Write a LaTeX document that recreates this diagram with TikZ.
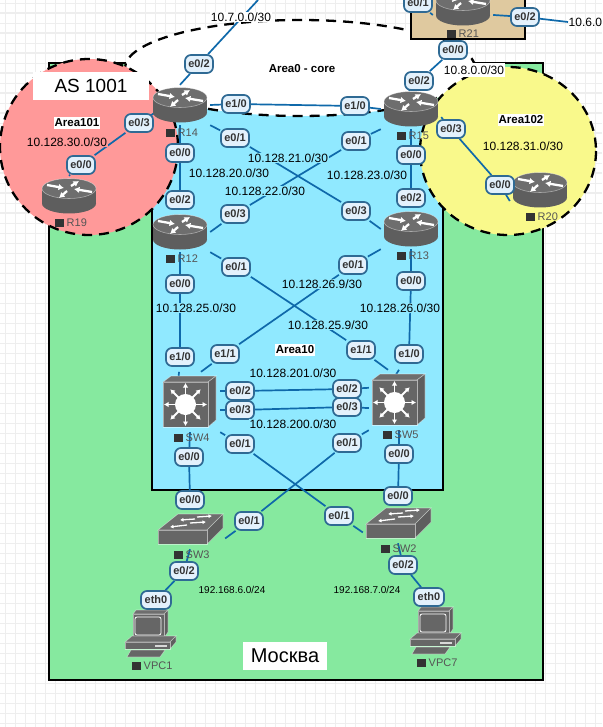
\documentclass[tikz,border=0pt]{standalone}
\usepackage{fontspec}
\setmainfont{Liberation Sans}
\usetikzlibrary{arrows.meta}
\definecolor{gridc}{HTML}{EEEEEE}
\definecolor{greenbg}{HTML}{86E99F}
\definecolor{bluebg}{HTML}{90E9FF}
\definecolor{pinkbg}{HTML}{FF9999}
\definecolor{yellowbg}{HTML}{F9F98B}
\definecolor{tanbg}{HTML}{DFC99F}
\definecolor{linkc}{HTML}{0F69AA}
\definecolor{pillfill}{HTML}{E3F1FC}
\definecolor{pilledge}{HTML}{2F6A94}
\definecolor{devc}{HTML}{666666}
\definecolor{devtop}{HTML}{6E6E6E}
\definecolor{devdark}{HTML}{5E5E5E}
\definecolor{labc}{HTML}{555555}
\pgfdeclarelayer{bg}
\pgfdeclarelayer{conn}
\pgfsetlayers{bg,conn,main}
\tikzset{
  link/.style={draw=linkc,line width=1.7pt},
  pill/.style={draw=pilledge,line width=1.7pt,fill=pillfill,rounded corners=6pt,minimum width=28pt,minimum height=18pt,inner sep=0pt,font=\fontsize{11}{11}\selectfont\bfseries,text=black!80},
  net/.style={inner sep=0.5pt,font=\fontsize{12}{12}\selectfont,text=black},
  smallnet/.style={inner sep=0pt,font=\fontsize{10}{10}\selectfont,text=black},
  title/.style={fill=white,inner sep=0pt,font=\fontsize{11.5}{12}\selectfont\bfseries,text=black,inner xsep=1pt,inner ysep=2pt},
  bigbox/.style={fill=white,inner sep=0pt,text=black},
  devbox/.style={minimum width=#1,minimum height=40pt,inner sep=0pt,draw=none},
  devlabel/.style={anchor=west,inner sep=0pt,font=\fontsize{11}{11}\selectfont,text=labc},
  area/.style={draw=black,line width=2.3pt,dash pattern=on 10pt off 7pt},
  iconarrow/.style={draw=white,line width=2.3pt,-{Latex[length=5.5pt,width=6.5pt]}},
  spoke/.style={draw=white,line width=1.8pt,-{Latex[length=4.5pt,width=5.5pt]}},
  thinarrow/.style={draw=white,line width=1.3pt,-{Latex[length=3.5pt,width=4pt]}},
  edge/.style={draw=white,draw opacity=0.45,line width=0.6pt},
  router/.pic={
    \fill[devdark] (-27,-7.5) rectangle (27,7.5);
    \fill[devdark] (0,7.5) ellipse [x radius=27,y radius=10];
    \fill[devtop,draw=white,draw opacity=0.45,line width=0.6pt] (0,-7.5) ellipse [x radius=27,y radius=10];
    \draw[iconarrow] (-22,-11) -- (-5,-8);
    \draw[iconarrow] (2,-10) -- (10,-15);
    \draw[iconarrow] (23,-4) -- (5,-7);
    \draw[iconarrow] (-2,-5) -- (-10,2);
  },
  lthree/.pic={
    \fill[devtop,edge] (-27,-20) -- (-19,-26) -- (26,-26) -- (18,-20) -- cycle;
    \fill[devdark,edge] (18,-20) -- (26,-26) -- (26,18) -- (18,25) -- cycle;
    \fill[devc,edge] (-27,-20) rectangle (18,25);
    \fill[white] (-4.5,2.5) circle (10.5);
    \foreach \a in {0,45,...,315}{
      \draw[spoke] ([shift={(\a:9)}]-4.5,2.5) -- ([shift={(\a:21.5)}]-4.5,2.5);
    }
  },
  ltwo/.pic={
    \fill[devtop,edge] (-32,1) -- (-12,-15) -- (33,-15) -- (17,1) -- cycle;
    \fill[devdark,edge] (17,1) -- (33,-15) -- (33,-1) -- (17,15) -- cycle;
    \fill[devc,edge] (-32,1) rectangle (17,15);
    \draw[thinarrow] (5,-10) -- (-10,-9);
    \draw[thinarrow] (7,-12) -- (22,-13);
    \draw[thinarrow] (-3,-4) -- (-20,-2);
    \draw[thinarrow] (0,-6) -- (16,-7);
  },
  pc/.pic={
    \fill[devtop,edge] (-17,-20) -- (-14,-24) -- (18,-24) -- (14,-20) -- cycle;
    \fill[devdark,edge] (14,-20) -- (18,-24) -- (18,-2) -- (14,4) -- cycle;
    \fill[devc,edge] (-17,-20) rectangle (14,4);
    \draw[white,line width=0.8pt,rounded corners=2pt] (-15,-17) rectangle (11,1);
    \fill[devtop,edge] (-25,8) -- (-18,2) -- (26,2) -- (20,8) -- cycle;
    \fill[devdark,edge] (20,8) -- (26,2) -- (26,8) -- (20,15) -- cycle;
    \fill[devc,edge] (-25,8) rectangle (20,15);
    \fill[white,opacity=0.75] (5,11) rectangle (17,13);
    \fill[devc,edge] (-19,16) -- (15,16) -- (10,23) -- (-23,23) -- cycle;
  }
}
\newcommand{\devlab}[4]{\node[devlabel] (#1) at (#2,#3) {\textcolor[HTML]{333333}{\raisebox{-0.6pt}{\rule{8.5pt}{8.5pt}}}\hspace{3pt}#4};}
\begin{document}
\begin{tikzpicture}[x=1pt,y=-1pt]
\useasboundingbox (0,0) rectangle (602,727);
\begin{pgfonlayer}{bg}
  \fill[white] (0,0) rectangle (602,727);
  \foreach \g in {5,15,...,595} \draw[gridc,line width=0.5pt] (\g,0) -- (\g,727);
  \foreach \g in {3,13,...,723} \draw[gridc,line width=0.5pt] (0,\g) -- (602,\g);
  \foreach \g in {5,25,...,585} \draw[gridc,line width=1pt] (\g,0) -- (\g,727);
  \foreach \g in {13,33,...,713} \draw[gridc,line width=1pt] (0,\g) -- (602,\g);
  \filldraw[fill=greenbg,draw=black,line width=1.1pt] (49,63) rectangle (543,680);
  \filldraw[fill=bluebg,draw=black,line width=2.6pt] (152,100) rectangle (443,490);
  \filldraw[fill=white,area] (300,68) ellipse [x radius=175,y radius=48];
  \filldraw[fill=tanbg,draw=black,line width=1.1pt] (411,-10) rectangle (525,39);
  \filldraw[fill=pinkbg,area] (89,147) ellipse [x radius=89,y radius=88];
  \filldraw[fill=yellowbg,area] (508,151) ellipse [x radius=88,y radius=84];
\end{pgfonlayer}

% devices
\node[devbox=60pt] (r14) at (180,105) {}; \pic at (r14) {router};
\node[devbox=60pt] (r15) at (411,109) {}; \pic at (r15) {router};
\node[devbox=60pt] (r12) at (180,232) {}; \pic at (r12) {router};
\node[devbox=60pt] (r13) at (411,229) {}; \pic at (r13) {router};
\node[devbox=60pt] (r19) at (69,196) {}; \pic at (r19) {router};
\node[devbox=60pt] (r20) at (540,190) {}; \pic at (r20) {router};
\node[devbox=60pt] (r21) at (463,8) {}; \pic at (r21) {router};
\node[devbox=60pt,minimum height=60pt] (sw4) at (190,402) {}; \pic at (sw4) {lthree};
\node[devbox=60pt,minimum height=60pt] (sw5) at (399,400) {}; \pic at (sw5) {lthree};
\node[devbox=70pt] (sw3) at (190,529) {}; \pic at (sw3) {ltwo};
\node[devbox=70pt] (sw2) at (398,523) {}; \pic at (sw2) {ltwo};
\node[devbox=56pt,minimum height=52pt] (vpc1) at (150,634) {}; \pic at (vpc1) {pc};
\node[devbox=56pt,minimum height=52pt] (vpc7) at (435,631) {}; \pic at (vpc7) {pc};

% device labels
\devlab{l14}{166}{133}{R14}
\devlab{l15}{397}{136}{R15}
\devlab{l12}{166}{259}{R12}
\devlab{l13}{397}{256}{R13}
\devlab{l19}{55}{223}{R19}
\devlab{l20}{526}{217}{R20}
\devlab{l21}{447}{34}{R21}
\devlab{lsw4}{174}{438}{SW4}
\devlab{lsw5}{383}{435}{SW5}
\devlab{lsw3}{174}{555}{SW3}
\devlab{lsw2}{381}{549}{SW2}
\devlab{lvpc1}{132}{666}{VPC1}
\devlab{lvpc7}{417}{663}{VPC7}

% interface pills
\node[pill] (a1) at (199,64) {e0/2};
\node[pill] (a2) at (236,104) {e1/0};
\node[pill] (a3) at (355,106) {e1/0};
\node[pill] (a4) at (235,138) {e0/1};
\node[pill] (a5) at (356,211) {e0/3};
\node[pill] (a6) at (356,141) {e0/1};
\node[pill] (a7) at (235,214) {e0/3};
\node[pill] (a8) at (180,153) {e0/0};
\node[pill] (a9) at (180,200) {e0/2};
\node[pill] (b1) at (139,123) {e0/3};
\node[pill] (b2) at (81,165) {e0/0};
\node[pill] (b3) at (419,81) {e0/2};
\node[pill] (b4) at (453,50) {e0/0};
\node[pill] (b5) at (451,129) {e0/3};
\node[pill] (b6) at (500,185) {e0/0};
\node[pill] (b7) at (411,155) {e0/0};
\node[pill] (b8) at (411,198) {e0/2};
\node[pill] (b9) at (418,3) {e0/1};
\node[pill] (c1) at (525,17) {e0/2};
\node[pill] (c2) at (180,284) {e0/0};
\node[pill] (c3) at (180,357) {e1/0};
\node[pill] (c4) at (236,267) {e0/1};
\node[pill] (c5) at (361,350) {e1/1};
\node[pill] (c6) at (353,265) {e0/1};
\node[pill] (c7) at (225,354) {e1/1};
\node[pill] (c8) at (411,281) {e0/0};
\node[pill] (c9) at (409,354) {e1/0};
\node[pill] (d1) at (240,391) {e0/2};
\node[pill] (d2) at (347,389) {e0/2};
\node[pill] (d3) at (240,410) {e0/3};
\node[pill] (d4) at (347,407) {e0/3};
\node[pill] (d5) at (240,444) {e0/1};
\node[pill] (d6) at (339,516) {e0/1};
\node[pill] (d7) at (347,443) {e0/1};
\node[pill] (d8) at (249,521) {e0/1};
\node[pill] (d9) at (189,457) {e0/0};
\node[pill] (e1) at (190,500) {e0/0};
\node[pill] (e2) at (399,454) {e0/0};
\node[pill] (e3) at (398,496) {e0/0};
\node[pill] (e4) at (184,571) {e0/2};
\node[pill,minimum width=30pt] (e5) at (156,600) {eth0};
\node[pill] (e6) at (403,565) {e0/2};
\node[pill,minimum width=30pt] (e7) at (429,597) {eth0};

% network labels
\node[net,fill=white] (n1) at (241,17) {10.7.0.0/30};
\node[net,fill=white,minimum height=14pt] (n2) at (474,70) {10.8.0.0/30};
\node[net,fill=bluebg] at (288,158) {10.128.21.0/30};
\node[net,fill=bluebg] at (229,173) {10.128.20.0/30};
\node[net,fill=bluebg] at (265,191) {10.128.22.0/30};
\node[net,fill=bluebg] at (367,175) {10.128.23.0/30};
\node[net,fill=pinkbg] at (67,142) {10.128.30.0/30};
\node[net,fill=yellowbg] at (523,146) {10.128.31.0/30};
\node[net,fill=bluebg] at (196,308) {10.128.25.0/30};
\node[net,fill=bluebg] at (400,308) {10.128.26.0/30};
\node[net,fill=bluebg] at (322,284) {10.128.26.9/30};
\node[net,fill=bluebg] at (328,325) {10.128.25.9/30};
\node[net,fill=bluebg] at (293,373) {10.128.201.0/30};
\node[net,fill=bluebg] at (293,424) {10.128.200.0/30};
\node[net,anchor=west] (n3) at (568,22) {10.6.0.0/30};
\node[smallnet] at (232,590) {192.168.6.0/24};
\node[smallnet] at (367,590) {192.168.7.0/24};

% titles
\node[title] at (302,69) {Area0 - core};
\node[title] at (77,123) {Area101};
\node[title] at (521,120) {Area102};
\node[title] at (295,350) {Area10};
\node[bigbox,minimum width=116pt,minimum height=28pt,font=\fontsize{19}{19}\selectfont] at (91,86) {AS 1001};
\node[bigbox,minimum width=84pt,minimum height=28pt,font=\fontsize{20}{20}\selectfont] at (285,656) {Москва};

% connectors
\coordinate (top14) at (258,0);
\begin{pgfonlayer}{conn}
  \draw[link] (r14.north) -- (a1) -- (top14);
  \draw[link] (r14.east) -- (a2) -- (a3) -- (r15.west);
  \draw[link] (r14.south east) -- (a4) -- (a5) -- (r13.west);
  \draw[link] (r15.south west) -- (a6) -- (a7) -- (r12.east);
  \draw[link,shorten <=19pt,shorten >=2pt] (r14.south) -- (a8) -- (a9) -- (r12.north);
  \draw[link] (r14.200) -- (b1) -- (b2) -- (r19.north);
  \draw[link,shorten >=13pt] (r15.north) -- (b3) -- (b4) -- (r21.south);
  \draw[link] (r15.-15) -- (b5) -- (b6) -- (r20.200);
  \draw[link,shorten <=19pt,shorten >=2pt] (r15.south) -- (b7) -- (b8) -- (r13.north);
  \draw[link] (b9) -- (r21.193);
  \draw[link] (r21.-13) -- (c1) -- (n3.west);
  \draw[link,shorten <=16pt] (r12.south) -- (c2) -- (c3) -- (sw4.110);
  \draw[link] (r12.south east) -- (c4) -- (c5) -- (sw5.110);
  \draw[link] (r13.south west) -- (c6) -- (c7) -- (sw4.70);
  \draw[link,shorten <=16pt] (r13.south) -- (c8) -- (c9) -- (sw5.north);
  \draw[link] (sw4.20) -- (d1) -- (d2) -- (sw5.158);
  \draw[link] (sw4.-15) -- (d3) -- (d4) -- (sw5.195);
  \draw[link] (sw4.south east) -- (d5) -- (d6) -- (sw2.195);
  \draw[link] (sw5.south west) -- (d7) -- (d8) -- (sw3.-15);
  \draw[link,shorten <=16pt] (sw4.south) -- (d9) -- (e1) -- (sw3.north);
  \draw[link,shorten <=16pt] (sw5.south) -- (e2) -- (e3) -- (sw2.north);
  \draw[link,shorten <=13pt] (sw3.south) -- (e4) -- (e5) -- (vpc1.north);
  \draw[link,shorten <=13pt] (sw2.south) -- (e6) -- (e7) -- (vpc7.north);
\end{pgfonlayer}
\end{tikzpicture}
\end{document}
